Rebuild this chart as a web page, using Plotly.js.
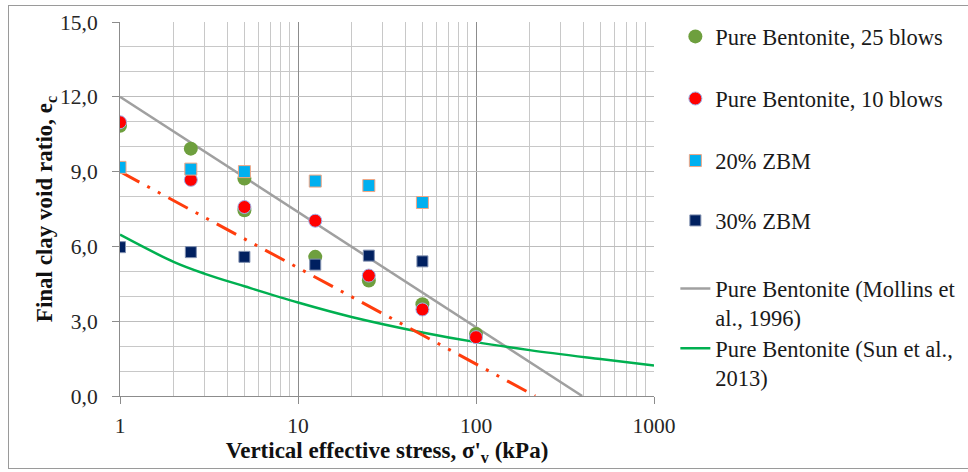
<!DOCTYPE html>
<html>
<head>
<meta charset="utf-8">
<script src="https://cdn.plot.ly/plotly-3.0.1.min.js"></script>
<style>
  html, body { margin: 0; padding: 0; background: #fff; overflow: hidden; }
  #wrap { position: relative; width: 968px; height: 472px; }
  #chart { position: absolute; left: 0; top: 0; width: 968px; height: 472px; }
  #frame { position: absolute; left: 8px; top: 5px; width: 990px; height: 462px;
           border: 1px solid #9a9a9a; pointer-events: none; }
</style>
</head>
<body>
<div id="wrap">
  <div id="chart"></div>
  <div id="frame"></div>
</div>
<script>
// ---- data ----
const blows25X = [1, 2.5, 5, 5, 12.5, 25, 50, 100];
const blows25Y = [10.84, 9.92, 8.72, 7.45, 5.58, 4.63, 3.68, 2.49];

const blows10X = [1, 2.5, 5, 12.5, 25, 50, 100];
const blows10Y = [10.98, 8.67, 7.58, 7.03, 4.83, 3.47, 2.36];

const zbm20X = [1, 2.5, 5, 12.5, 25, 50];
const zbm20Y = [9.17, 9.1, 9.0, 8.62, 8.44, 7.76];

const zbm30X = [1, 2.5, 5, 12.5, 25, 50];
const zbm30Y = [5.97, 5.77, 5.58, 5.27, 5.63, 5.4];

const mollinsX = [1, 395];
const mollinsY = [12.0, 0.0];

const sunX = [1, 2, 3, 5, 10, 20, 50, 100, 200, 500, 1000];
const sunY = [6.47, 5.38, 4.9, 4.4, 3.75, 3.17, 2.55, 2.16, 1.84, 1.48, 1.22];

const fitX = [1, 215];
const fitY = [9.0, 0.0];

const yTickVals = [0, 3, 6, 9, 12, 15];
const yTickText = ['0,0', '3,0', '6,0', '9,0', '12,0', '15,0'];
const xTickVals = [1, 10, 100, 1000];
const xTickText = ['1', '10', '100', '1000'];

const seriesNames = [
  'Pure Bentonite, 25 blows',
  'Pure Bentonite, 10 blows',
  '20% ZBM',
  '30% ZBM',
  'Pure Bentonite (Mollins et<br>al., 1996)',
  'Pure Bentonite (Sun et al.,<br>2013)'
];

// minor log grid positions (2..9 in each decade)
const xMinor = [];
[1, 10, 100].forEach(d => { for (let m = 2; m <= 9; m++) xMinor.push(m * d); });

const FONT = "'Liberation Serif', 'Times New Roman', serif";

const traces = [
  { x: blows25X, y: blows25Y, name: seriesNames[0], mode: 'markers', type: 'scatter',
    legend: 'legend',
    marker: { symbol: 'circle', size: 14, color: '#6E9F3E', line: { width: 0 } } },
  { x: blows10X, y: blows10Y, name: seriesNames[1], mode: 'markers', type: 'scatter',
    legend: 'legend2',
    marker: { symbol: 'circle', size: 13, color: '#FF0000', line: { width: 1, color: '#9DB0E8' } } },
  { x: zbm20X, y: zbm20Y, name: seriesNames[2], mode: 'markers', type: 'scatter',
    legend: 'legend3',
    marker: { symbol: 'square', size: 12, color: '#00B0F0', line: { width: 1, color: '#F4A582' } } },
  { x: zbm30X, y: zbm30Y, name: seriesNames[3], mode: 'markers', type: 'scatter',
    legend: 'legend4',
    marker: { symbol: 'square', size: 11, color: '#002060', line: { width: 1, color: '#8090B0' } } },
  { x: mollinsX, y: mollinsY, name: seriesNames[4], mode: 'lines', type: 'scatter',
    legend: 'legend5',
    line: { color: '#A0A0A0', width: 2.5 } },
  { x: sunX, y: sunY, name: seriesNames[5], mode: 'lines', type: 'scatter',
    legend: 'legend6',
    line: { color: '#00B050', width: 2.5, shape: 'spline' } },
  { x: fitX, y: fitY, name: 'fit', mode: 'lines', type: 'scatter', showlegend: false,
    line: { color: '#FF3D0D', width: 3, dash: '22px,9px,3px,9px,3px,9px' } }
];

// lines drawn beneath the markers
const order = [4, 5, 6, 0, 1, 2, 3];
const data = order.map(i => traces[i]);

// one legend box per entry so the entries can be spaced like the original
const legendTops = [1.018, 0.852, 0.686, 0.526, 0.344, 0.184];
function legendBox(yTop) {
  return {
    x: 1.04, y: yTop, xanchor: 'left', yanchor: 'top',
    font: { family: FONT, size: 22.5, color: '#1a1a1a' },
    valign: 'top', bgcolor: 'rgba(0,0,0,0)', borderwidth: 0
  };
}

const layout = {
  width: 968, height: 472,
  margin: { l: 120, r: 314, t: 22, b: 76, autoexpand: false },
  paper_bgcolor: '#ffffff',
  plot_bgcolor: '#ffffff',
  font: { family: FONT, size: 22, color: '#1a1a1a' },
  showlegend: true,
  legend: legendBox(legendTops[0]),
  legend2: legendBox(legendTops[1]),
  legend3: legendBox(legendTops[2]),
  legend4: legendBox(legendTops[3]),
  legend5: legendBox(legendTops[4]),
  legend6: legendBox(legendTops[5]),
  xaxis: {
    type: 'log', range: [0, 3],
    tickvals: xTickVals, ticktext: xTickText,
    ticks: 'outside', ticklen: 7, tickcolor: '#8c8c8c', tickwidth: 1,
    ticklabelstandoff: 3,
    showgrid: true, gridcolor: '#8c8c8c', gridwidth: 1,
    showline: true, linecolor: '#8c8c8c', linewidth: 1,
    zeroline: false,
    tickfont: { family: FONT, size: 21.5, color: '#262626' },
    minor: { tickmode: 'array', tickvals: xMinor, showgrid: true, gridcolor: '#c8c8c8', gridwidth: 1, ticks: '' },
    title: { text: "<b>Vertical effective stress, σ'<sub>v</sub> (kPa)</b>",
             font: { family: FONT, size: 23, color: '#111111' }, standoff: 2 }
  },
  yaxis: {
    range: [0, 15],
    tickvals: yTickVals, ticktext: yTickText,
    ticks: 'outside', ticklen: 7, tickcolor: '#8c8c8c', tickwidth: 1,
    ticklabelstandoff: 10,
    showgrid: true, gridcolor: '#bdbdbd', gridwidth: 1,
    showline: true, linecolor: '#8c8c8c', linewidth: 1,
    zeroline: false,
    tickfont: { family: FONT, size: 21.5, color: '#262626' },
    minor: { dtick: 1, tick0: 0, showgrid: true, gridcolor: '#c8c8c8', gridwidth: 1, ticks: '' },
    title: { text: '<b>Final clay void ratio, e<sub>c</sub></b>',
             font: { family: FONT, size: 23, color: '#111111' }, standoff: 0 }
  }
};

Plotly.newPlot('chart', data, layout, { displayModeBar: false, staticPlot: true });
</script>
</body>
</html>
